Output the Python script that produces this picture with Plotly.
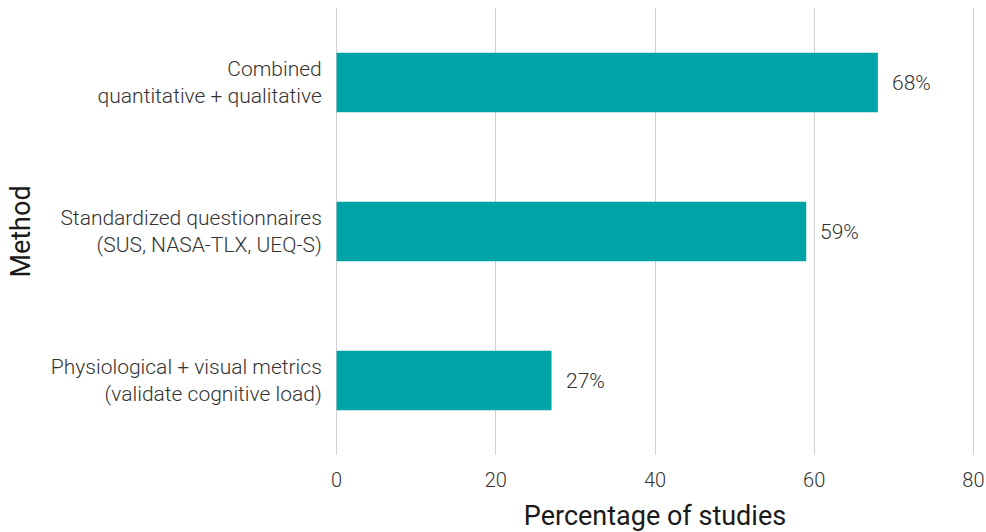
import plotly.graph_objects as go

categories = ["Combined<br>quantitative + qualitative",
              "Standardized questionnaires<br>(SUS, NASA-TLX, UEQ-S)",
              "Physiological + visual metrics<br>(validate cognitive load)"]
values = [68, 59, 27]
labels = ["68%", "59%", "27%"]
x_ticks = [0, 20, 40, 60, 80]

BAR = "#00A3A6"

fig = go.Figure(go.Bar(
    x=values, y=categories, orientation="h",
    marker=dict(color=BAR, line=dict(width=0)),
    width=0.4, hoverinfo="skip",
))

for v, c, t in zip(values, categories, labels):
    fig.add_annotation(x=v, y=c, text=t, showarrow=False, xanchor="left",
                       xshift=12, font=dict(family="Roboto", size=21, color="#333333", weight=300))

fig.update_layout(
    width=986, height=532,
    margin=dict(l=335, r=11, t=8, b=77),
    paper_bgcolor="white", plot_bgcolor="white",
    showlegend=False,
    font=dict(family="Roboto", color="#333333"),
)
fig.update_xaxes(
    range=[-0.2, 80.2], tickvals=x_ticks, ticktext=[str(v) for v in x_ticks],
    showgrid=True, gridcolor="#d0d0d0", gridwidth=1.2, zeroline=False,
    showline=False, ticks="outside", ticklen=7, tickcolor="rgba(0,0,0,0)",
    tickfont=dict(family="Roboto", size=20, color="#333333", weight=300),
    title=dict(text="Percentage of studies", standoff=18,
               font=dict(family="Roboto", size=27, color="#1a1a1a", weight=400)),
    automargin=False, fixedrange=True,
)
fig.update_yaxes(
    autorange="reversed", categoryorder="array", categoryarray=categories,
    showgrid=False, zeroline=False, showline=False,
    ticks="outside", ticklen=8, tickcolor="rgba(0,0,0,0)",
    tickfont=dict(family="Roboto", size=21, color="#333333", weight=300),
    title=dict(text="Method", standoff=12,
               font=dict(family="Roboto", size=27, color="#1a1a1a", weight=400)),
    automargin=False, fixedrange=True,
)

fig.write_html("out.html", config=dict(displayModeBar=False),
               post_script="document.body.style.margin='0';document.body.style.overflow='hidden';")
